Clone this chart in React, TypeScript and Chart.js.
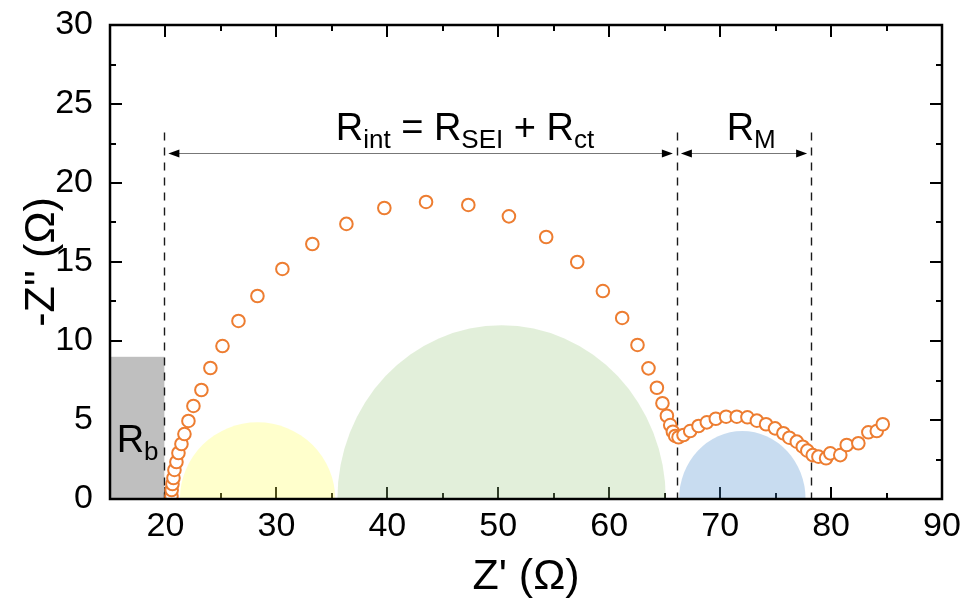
import { useEffect, useRef } from 'react';
import { Chart, registerables } from 'chart.js';

Chart.register(...registerables);

const FONT = "'Liberation Sans', Arial, Helvetica, sans-serif";

// Nyquist data: real part Z' and negative imaginary part -Z'' (ohm)
const zReal = [
  20.54, 20.56, 20.63, 20.72, 20.81, 20.99, 21.17, 21.44, 21.71, 22.07,
  22.52, 23.24, 24.05, 25.14, 26.58, 28.29, 30.54, 33.24, 36.31, 39.73,
  43.49, 47.3, 50.96, 54.32, 57.12, 59.43, 61.17, 62.55, 63.54, 64.3,
  64.8, 65.2, 65.5, 65.74, 65.95, 66.25, 66.7, 67.3, 68.05, 68.8,
  69.61, 70.54, 71.5, 72.46, 73.31, 74.14, 74.95, 75.7, 76.24, 76.91,
  77.45, 77.86, 78.35, 78.86, 79.55, 79.93, 80.83, 81.41, 82.46, 83.36,
  84.12, 84.66,
];
const zImag = [
  0.19, 0.57, 0.95, 1.33, 1.84, 2.34, 2.91, 3.48, 4.11, 4.94,
  5.89, 6.9, 8.29, 9.68, 11.27, 12.85, 14.56, 16.14, 17.41, 18.42,
  18.8, 18.61, 17.89, 16.58, 15.0, 13.16, 11.46, 9.75, 8.27, 7.04,
  6.06, 5.27, 4.68, 4.26, 3.99, 3.91, 4.05, 4.3, 4.62, 4.85,
  5.08, 5.21, 5.21, 5.17, 4.96, 4.73, 4.47, 4.16, 3.88, 3.63,
  3.31, 3.06, 2.78, 2.68, 2.58, 2.89, 2.78, 3.42, 3.53, 4.22,
  4.3, 4.73,
];

// Axis ticks
const xTickValues = [20, 30, 40, 50, 60, 70, 80, 90];
const xMinorValues = [25, 35, 45, 55, 65, 75, 85];
const yTickValues = [0, 5, 10, 15, 20, 25, 30];
const yMinorValues = [2.5, 7.5, 12.5, 17.5, 22.5, 27.5];

// Shaded semicircles for each process: centre, half-width and height (ohm)
const arcCenters = [28.3, 50.3, 72.0];
const arcHalfWidths = [7.0, 14.8, 5.7];
const arcHeights = [4.85, 11.0, 4.3];
const arcColors = [
  'rgba(255, 255, 85, 0.3)',
  'rgba(158, 202, 132, 0.3)',
  'rgba(72, 138, 205, 0.3)',
];

// Bulk resistance block
const bulkRange = [15, 19.9];
const bulkHeight = 9;

// Boundaries between regions and the arrows spanning them
const boundaryZ = [19.9, 66.1, 78.2];
const boundaryTop = 23.2;
const arrowLevel = 21.9;

// Labels: [text, isSubscript]
const intLabel: [string, boolean][] = [
  ['R', false], ['int', true], [' = R', false], ['SEI', true], [' + R', false], ['ct', true],
];
const mLabel: [string, boolean][] = [['R', false], ['M', true]];
const bLabel: [string, boolean][] = [['R', false], ['b', true]];
const intLabelPos = [47.0, 22.7];
const mLabelPos = [72.8, 22.7];
const bLabelPos = [15.6, 2.97];

const MAIN_SIZE = 38;
const SUB_SIZE = 26;
const TICK_SIZE = 34;
const TITLE_SIZE = 43;

function drawRich(
  ctx: CanvasRenderingContext2D,
  parts: [string, boolean][],
  x: number,
  baseline: number,
  align: 'left' | 'center',
) {
  const fontOf = (sub: boolean) => `${sub ? SUB_SIZE : MAIN_SIZE}px ${FONT}`;
  let total = 0;
  for (const [t, sub] of parts) {
    ctx.font = fontOf(sub);
    total += ctx.measureText(t).width;
  }
  let cx = align === 'center' ? x - total / 2 : x;
  ctx.textAlign = 'left';
  ctx.textBaseline = 'alphabetic';
  ctx.fillStyle = '#000';
  for (const [t, sub] of parts) {
    ctx.font = fontOf(sub);
    ctx.fillText(t, cx, baseline + (sub ? 8 : 0));
    cx += ctx.measureText(t).width;
  }
}

function arrowHead(ctx: CanvasRenderingContext2D, tipX: number, yPx: number, dir: number) {
  ctx.beginPath();
  ctx.moveTo(tipX, yPx);
  ctx.lineTo(tipX - dir * 11, yPx - 4);
  ctx.lineTo(tipX - dir * 11, yPx + 4);
  ctx.closePath();
  ctx.fill();
}

const overlayPlugin = {
  id: 'nyquistOverlay',
  beforeDatasetsDraw(chart: any) {
    const { ctx, chartArea: a } = chart;
    const x = chart.scales.x;
    const y = chart.scales.y;

    ctx.save();
    ctx.beginPath();
    ctx.rect(a.left, a.top, a.right - a.left, a.bottom - a.top);
    ctx.clip();

    // inward ticks on all four sides
    ctx.strokeStyle = '#000';
    ctx.lineWidth = 2;
    const vTick = (v: number, len: number) => {
      const px = Math.round(x.getPixelForValue(v));
      ctx.beginPath();
      ctx.moveTo(px, a.bottom);
      ctx.lineTo(px, a.bottom - len);
      ctx.moveTo(px, a.top);
      ctx.lineTo(px, a.top + len);
      ctx.stroke();
    };
    const hTick = (v: number, len: number) => {
      const py = Math.round(y.getPixelForValue(v));
      ctx.beginPath();
      ctx.moveTo(a.left, py);
      ctx.lineTo(a.left + len, py);
      ctx.moveTo(a.right, py);
      ctx.lineTo(a.right - len, py);
      ctx.stroke();
    };
    xTickValues.forEach((v) => vTick(v, 12));
    xMinorValues.forEach((v) => vTick(v, 6));
    yTickValues.forEach((v) => hTick(v, 12));
    yMinorValues.forEach((v) => hTick(v, 6));

    // shaded semicircles
    const y0 = y.getPixelForValue(0);
    arcCenters.forEach((c, i) => {
      const cx = x.getPixelForValue(c);
      const rx = x.getPixelForValue(c + arcHalfWidths[i]) - cx;
      const ry = y0 - y.getPixelForValue(arcHeights[i]);
      ctx.fillStyle = arcColors[i];
      ctx.beginPath();
      ctx.ellipse(cx, y0, rx, ry, 0, Math.PI, 2 * Math.PI);
      ctx.closePath();
      ctx.fill();
    });

    // bulk block
    const bx0 = x.getPixelForValue(bulkRange[0]);
    const bx1 = x.getPixelForValue(bulkRange[1]);
    const by = y.getPixelForValue(bulkHeight);
    ctx.fillStyle = 'rgb(191, 191, 191)';
    ctx.fillRect(bx0, by, bx1 - bx0, y0 - by);
    ctx.restore();

    // boundary lines
    ctx.save();
    ctx.strokeStyle = '#1a1a1a';
    ctx.lineWidth = 1.4;
    ctx.setLineDash([8, 7]);
    const topPx = y.getPixelForValue(boundaryTop);
    boundaryZ.forEach((v) => {
      const px = Math.round(x.getPixelForValue(v)) + 0.5;
      ctx.beginPath();
      ctx.moveTo(px, topPx);
      ctx.lineTo(px, y0);
      ctx.stroke();
    });
    ctx.restore();

    // double-headed arrows between boundaries
    ctx.save();
    const ay = Math.round(y.getPixelForValue(arrowLevel)) + 0.5;
    for (let i = 0; i < boundaryZ.length - 1; i++) {
      const p0 = x.getPixelForValue(boundaryZ[i]) + 4;
      const p1 = x.getPixelForValue(boundaryZ[i + 1]) - 4;
      ctx.strokeStyle = '#777';
      ctx.lineWidth = 1;
      ctx.beginPath();
      ctx.moveTo(p0 + 6, ay);
      ctx.lineTo(p1 - 6, ay);
      ctx.stroke();
      ctx.fillStyle = '#000';
      arrowHead(ctx, p0, ay, -1);
      arrowHead(ctx, p1, ay, 1);
    }

    // labels
    drawRich(ctx, intLabel, x.getPixelForValue(intLabelPos[0]), y.getPixelForValue(intLabelPos[1]), 'center');
    drawRich(ctx, mLabel, x.getPixelForValue(mLabelPos[0]), y.getPixelForValue(mLabelPos[1]), 'center');
    drawRich(ctx, bLabel, x.getPixelForValue(bLabelPos[0]), y.getPixelForValue(bLabelPos[1]), 'left');
    ctx.restore();
  },
  afterDatasetsDraw(chart: any) {
    const { ctx, chartArea: a } = chart;
    ctx.save();
    ctx.strokeStyle = '#000';
    ctx.lineWidth = 2.5;
    ctx.strokeRect(a.left, a.top, a.right - a.left, a.bottom - a.top);
    ctx.restore();
  },
};

export default function App() {
  const ref = useRef<HTMLCanvasElement>(null);

  useEffect(() => {
    const canvas = ref.current;
    if (!canvas) return;
    const chart = new Chart(canvas, {
      type: 'scatter',
      data: {
        datasets: [
          {
            data: zReal.map((v, i) => ({ x: v, y: zImag[i] })),
            pointStyle: 'circle',
            pointRadius: 6.3,
            pointHoverRadius: 6.3,
            borderWidth: 2,
            borderColor: 'rgb(237, 125, 49)',
            backgroundColor: '#ffffff',
            showLine: false,
          },
        ],
      },
      options: {
        responsive: false,
        animation: false,
        events: [],
        layout: { padding: { top: 25, right: 23, left: 0, bottom: 0 } },
        plugins: { legend: { display: false }, tooltip: { enabled: false } },
        scales: {
          x: {
            type: 'linear',
            min: 15,
            max: 90,
            grid: { display: false, drawTicks: false },
            border: { display: false },
            afterBuildTicks: (s: any) => {
              s.ticks = xTickValues.map((v) => ({ value: v }));
            },
            afterFit: (s: any) => {
              s.height = 104;
              s.paddingLeft = 0;
              s.paddingRight = 0;
            },
            ticks: {
              padding: 7,
              color: '#000',
              maxRotation: 0,
              autoSkip: false,
              font: { family: FONT, size: TICK_SIZE },
            },
            title: {
              display: true,
              text: "Z' (Ω)",
              color: '#000',
              font: { family: FONT, size: TITLE_SIZE },
              padding: { top: 0, bottom: 0 },
            },
          },
          y: {
            type: 'linear',
            min: 0,
            max: 30,
            grid: { display: false, drawTicks: false },
            border: { display: false },
            afterBuildTicks: (s: any) => {
              s.ticks = yTickValues.map((v) => ({ value: v }));
            },
            afterFit: (s: any) => {
              s.width = 110;
              s.paddingTop = 0;
              s.paddingBottom = 0;
            },
            ticks: {
              padding: 17,
              color: '#000',
              autoSkip: false,
              font: { family: FONT, size: TICK_SIZE },
            },
            title: {
              display: true,
              text: "-Z'' (Ω)",
              color: '#000',
              font: { family: FONT, size: TITLE_SIZE },
              padding: { top: 16, bottom: 0 },
            },
          },
        },
      },
      plugins: [overlayPlugin],
    });
    return () => chart.destroy();
  }, []);

  return (
    <div style={{ position: 'fixed', left: 0, top: 0, width: 965, height: 603, background: '#fff' }}>
      <canvas ref={ref} width={965} height={603} style={{ display: 'block' }} />
    </div>
  );
}
